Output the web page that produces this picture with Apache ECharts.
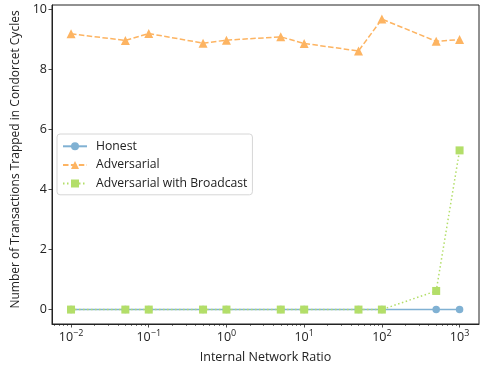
<!DOCTYPE html>
<html>
<head>
<meta charset="utf-8">
<script src="https://cdn.jsdelivr.net/npm/echarts@6/dist/echarts.min.js"></script>
<style>
  html, body { margin: 0; padding: 0; background: #fff; }
  #chart { width: 480px; height: 368px; }
</style>
</head>
<body>
<div id="chart"></div>
<script>
// Internal network ratio (log scale)
const ratios = [0.01, 0.05, 0.1, 0.5, 1, 5, 10, 50, 100, 500, 1000];
const honest = [0, 0, 0, 0, 0, 0, 0, 0, 0, 0, 0];
const adversarial = [9.18, 8.96, 9.19, 8.87, 8.97, 9.08, 8.86, 8.61, 9.67, 8.93, 8.99];
const broadcast = [0, 0, 0, 0, 0, 0, 0, 0, 0, 0.62, 5.3];
const xMajorTicks = [0.01, 0.1, 1, 10, 100, 1000];
const yTicks = [0, 2, 4, 6, 8, 10];

const FONT = 'Open Sans';
const FS = 12.5;
const xMin = Math.pow(10, -2.245);
const xMax = Math.pow(10, 3.25);

// minor ticks at 2..9 x 10^n inside the visible range
const xMinorTicks = [];
for (let e = -3; e <= 3; e++) {
  for (let m = 2; m <= 9; m++) {
    const v = m * Math.pow(10, e);
    if (v > xMin && v < xMax) xMinorTicks.push(v);
  }
}

const supMap = { '-': '\u2212' };
function powLabel(v) {
  const e = Math.round(Math.log10(v));
  const s = String(e).split('').map(c => supMap[c] || c).join('');
  return '{b|10}{s|' + s + '}';
}

const chart = echarts.init(document.getElementById('chart'), null, { renderer: 'canvas' });

const pairs = arr => ratios.map((r, i) => [r, arr[i]]);

chart.setOption({
  animation: false,
  textStyle: { fontFamily: FONT },
  grid: {
    left: 52, right: 1, top: 5, bottom: 44,
    containLabel: false,
    outerBoundsMode: 'none',
    show: true, borderColor: '#222', borderWidth: 1, backgroundColor: 'transparent'
  },
  legend: {
    orient: 'vertical',
    left: 57, top: 134,
    padding: [5, 5, 4, 5],
    itemGap: 4,
    itemWidth: 24, itemHeight: 10,
    backgroundColor: '#fff',
    borderColor: '#d6d6d6', borderWidth: 1, borderRadius: 3,
    textStyle: { fontFamily: FONT, fontSize: 12.2, lineHeight: 14.6, color: '#222', padding: [0, 0, 0, 4] },
    data: ['Honest', 'Adversarial', 'Adversarial with Broadcast']
  },
  xAxis: [{
    type: 'log',
    logBase: 10,
    min: xMin, max: xMax,
    name: 'Internal Network Ratio',
    nameLocation: 'middle',
    nameGap: 27,
    nameTextStyle: { fontFamily: FONT, fontSize: FS, color: '#222' },
    axisLine: { show: true, onZero: false, lineStyle: { color: '#222', width: 1 } },
    axisTick: { show: true, inside: false, length: 3.5, lineStyle: { color: '#222', width: 0.8 }, customValues: xMajorTicks },
    axisLabel: {
      show: true, margin: 5, customValues: xMajorTicks,
      formatter: powLabel,
      rich: {
        b: { fontFamily: FONT, fontSize: FS, color: '#222', verticalAlign: 'bottom', lineHeight: 15 },
        s: { fontFamily: FONT, fontSize: 9, color: '#222', verticalAlign: 'top', lineHeight: 15, padding: [0, 0, 6, 0] }
      }
    },
    splitLine: { show: false },
    minorTick: { show: false }
  }, {
    type: 'log',
    logBase: 10,
    min: xMin, max: xMax,
    position: 'bottom',
    gridIndex: 0,
    axisLine: { show: false, onZero: false },
    axisTick: { show: true, length: 2, lineStyle: { color: '#222', width: 0.6 }, customValues: xMinorTicks },
    axisLabel: { show: false },
    splitLine: { show: false }
  }],
  yAxis: {
    type: 'value',
    min: -0.48, max: 10.14,
    name: 'Number of Transactions Trapped in Condorcet Cycles',
    nameLocation: 'middle',
    nameGap: 29,
    nameTextStyle: { fontFamily: FONT, fontSize: 12, color: '#222', padding: [0, 0, 0, 10] },
    axisLine: { show: true, onZero: false, lineStyle: { color: '#222', width: 1 } },
    axisTick: { show: true, length: 3.5, lineStyle: { color: '#222', width: 0.8 }, customValues: yTicks },
    axisLabel: { show: true, margin: 5, fontFamily: FONT, fontSize: FS, color: '#222', customValues: yTicks },
    splitLine: { show: false }
  },
  series: [{
    name: 'Honest',
    type: 'line',
    xAxisIndex: 0,
    data: pairs(honest),
    symbol: 'circle', symbolSize: 7.5,
    lineStyle: { color: '#80b1d3', width: 1.5, type: 'solid' },
    itemStyle: { color: '#80b1d3' },
    z: 2
  }, {
    name: 'Adversarial',
    type: 'line',
    xAxisIndex: 0,
    data: pairs(adversarial),
    symbol: 'triangle', symbolSize: 9,
    lineStyle: { color: '#fdb462', width: 1.5, type: [5.5, 2.4] },
    itemStyle: { color: '#fdb462' },
    z: 3
  }, {
    name: 'Adversarial with Broadcast',
    type: 'line',
    xAxisIndex: 0,
    data: pairs(broadcast),
    symbol: 'rect', symbolSize: 8,
    lineStyle: { color: '#b3de69', width: 1.5, type: [1.5, 2.5] },
    itemStyle: { color: '#b3de69' },
    z: 4
  }]
});
</script>
</body>
</html>
